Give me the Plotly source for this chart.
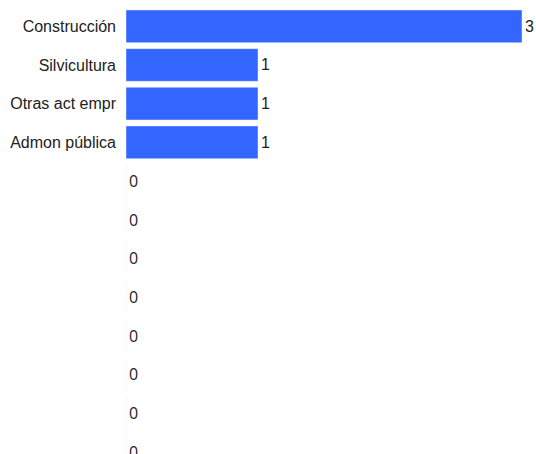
import plotly.graph_objects as go

categories = ["Construcción", "Silvicultura", "Otras act empr", "Admon pública",
              "", "", "", "", "", "", "", ""]
values = [3, 1, 1, 1, 0, 0, 0, 0, 0, 0, 0, 0]
labels = [str(v) for v in values]

positions = list(range(len(categories)))
fonts = ["Arial" if v > 0 else "Open Sans" for v in values]

fig = go.Figure(go.Bar(
    x=values,
    y=positions,
    orientation="h",
    marker=dict(color="#3366FF"),
    text=labels,
    textposition="outside",
    constraintext="none",
    textfont=dict(family=fonts, size=16, color="#222"),
    cliponaxis=False,
    hoverinfo="skip",
))

fig.update_layout(
    width=536,
    height=454,
    margin=dict(l=126, r=0, t=0, b=0),
    paper_bgcolor="white",
    plot_bgcolor="white",
    bargap=0.155,
    showlegend=False,
    font=dict(family="Arial", size=16, color="#222"),
)
fig.update_xaxes(range=[0, 3.106], showgrid=False, zeroline=False,
                 showticklabels=False, showline=False)
fig.update_yaxes(tickvals=positions, ticktext=categories, range=[11.06, -0.68],
                 showgrid=False, zeroline=False, showline=False,
                 ticklabelstandoff=9,
                 tickfont=dict(family="Arial", size=16, color="#222"))

fig.write_html("out.html",
               config={"displayModeBar": False},
               post_script="document.body.style.margin='0';document.body.style.overflow='hidden';")
